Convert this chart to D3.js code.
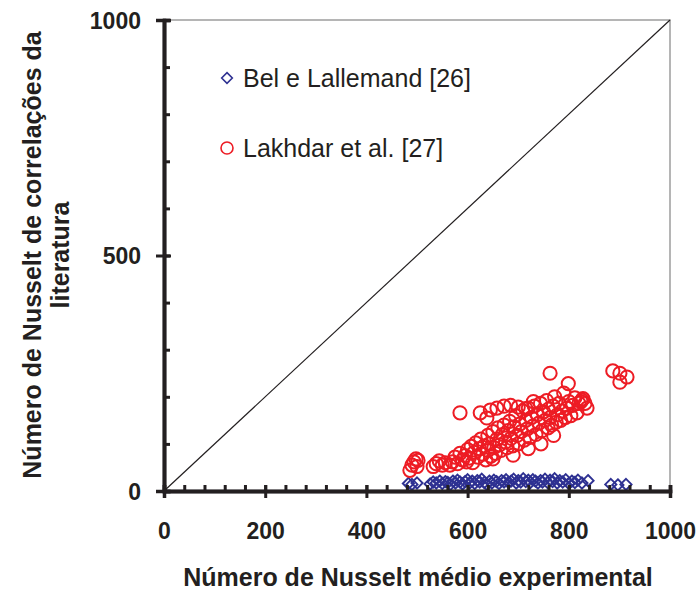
<!DOCTYPE html>
<meta http-equiv="content-type" content="text/html; charset=UTF8">
<html>
<head>
	<title>Nusselt</title>
	<script type="text/javascript" src="https://cdn.jsdelivr.net/npm/d3@7"></script>
	<style type="text/css">
		body, html { margin: 0; padding: 0; background: #fff; }
		text { font-family: "Liberation Sans", Arial, sans-serif; fill: #231f20; }
		.tick text { font-size: 23px; font-weight: bold; }
		.axis path, .axis line { stroke: #231f20; }
	</style>
</head>
<body>
<svg id="Chart" width="699" height="590"></svg>

<script type="text/javascript">

	// Bel e Lallemand [26]  (x = experimental, y = correlation)
	var belX = [483, 490, 500, 526, 532, 538, 545, 550, 556, 561, 566, 571, 576, 580, 585, 590, 595, 600, 604, 609, 614, 619, 624, 628, 633, 638, 643, 648, 652, 657, 662, 667, 672, 676, 681, 686, 691, 696, 700, 705, 710, 715, 720, 724, 729, 734, 739, 744, 748, 753, 758, 763, 768, 772, 777, 782, 788, 794, 800, 806, 812, 818, 826, 838, 883, 897, 913];
	var belY = [16, 14, 17, 15, 19, 17, 21, 16, 20, 18, 14, 21, 17, 23, 19, 15, 20, 24, 17, 21, 16, 22, 19, 25, 18, 14, 21, 17, 23, 20, 16, 22, 19, 24, 18, 21, 25, 17, 22, 19, 26, 20, 23, 18, 24, 21, 17, 22, 19, 25, 18, 23, 20, 26, 17, 22, 19, 24, 16, 21, 18, 23, 17, 22, 14, 13, 14];

	// Lakhdar et al. [27]
	var lakX = [486, 490, 494, 498, 502, 500,
		532, 538, 544, 550, 556,
		565, 570, 575, 580, 585, 590, 595, 598, 600,
		603, 607, 610, 613, 616, 620, 623, 626, 630, 633, 636, 640, 640,
		643, 646, 650, 652, 655, 658, 660, 663, 666, 669, 672, 675, 678, 680,
		683, 686, 689, 692, 695, 698, 700, 703, 706, 709, 712, 715, 718, 720,
		723, 726, 729, 732, 735, 738, 741, 744, 747, 750, 753, 756, 759, 760,
		763, 766, 769, 772, 775, 778, 781, 784, 787, 790, 793, 796, 799, 800,
		804, 808, 812, 816, 820, 824, 828, 832, 836, 826,
		650, 690, 720, 745, 770,
		585, 763, 887, 901, 915, 901,
		625, 638, 645, 658, 672, 685, 700, 715, 730];
	var lakY = [44, 55, 62, 68, 65, 52,
		52, 58, 64, 55, 60,
		55, 62, 72, 58, 80, 66, 75, 62, 88,
		70, 95, 60, 82, 102, 72, 90, 110, 78, 96, 66, 86, 118,
		100, 74, 126, 92, 80, 110, 134, 98, 86, 120, 140, 104, 92, 128,
		148, 112, 96, 136, 160, 118, 100, 142, 126, 170, 108, 150, 132, 176,
		114, 156, 138, 180, 120, 162, 144, 186, 128, 168, 150, 192, 134, 174,
		156, 140, 180, 200, 146, 162, 186, 150, 170, 208, 156, 176, 228, 190,
		160, 182, 198, 166, 186, 190, 196, 186, 176, 193,
		68, 76, 90, 100, 118,
		166, 250, 255, 250, 242, 231,
		166, 155, 172, 176, 180, 182, 178, 175, 190];

	var xMajor = [0, 200, 400, 600, 800, 1000],
		xMinor = d3.range(0, 1001, 40),
		yMajor = [0, 500, 1000],
		yMinor = d3.range(0, 1001, 100);

	var legendNames = ["Bel e Lallemand [26]", "Lakhdar et al. [27]"];

	var BLUE = "#2e3192",
		RED = "#ed1c24";

	var svg = d3.select("#Chart");

	var x = d3.scaleLinear().domain([0, 1000]).range([164, 670]),
		y = d3.scaleLinear().domain([0, 1000]).range([491, 20]);

	// frame (top and right)
	svg.append("path")
		.attr("d", "M" + x(0) + "," + y(1000) + "H" + x(1000) + "V" + y(0))
		.attr("fill", "none")
		.attr("stroke", "#9d9d9d")
		.attr("stroke-width", 1.5);

	// 1:1 line
	svg.append("line")
		.attr("x1", x(0)).attr("y1", y(0))
		.attr("x2", x(1000)).attr("y2", y(1000))
		.attr("stroke", "#231f20")
		.attr("stroke-width", 1.2);

	// markers
	var diamond = d3.symbol().type(d3.symbolDiamond2).size(80);

	svg.append("g").selectAll("path")
		.data(belX)
		.enter().append("path")
		.attr("d", diamond)
		.attr("transform", function(d, i) { return "translate(" + x(d) + "," + y(belY[i]) + ")"; })
		.attr("fill", "none")
		.attr("stroke", BLUE)
		.attr("stroke-width", 1.9);

	svg.append("g").selectAll("circle")
		.data(lakX)
		.enter().append("circle")
		.attr("cx", function(d) { return x(d); })
		.attr("cy", function(d, i) { return y(lakY[i]); })
		.attr("r", 6.6)
		.attr("fill", "none")
		.attr("stroke", RED)
		.attr("stroke-width", 2);

	// x axis: minor ticks up, major ticks across
	var gx = svg.append("g").attr("class", "axis").attr("transform", "translate(0," + y(0) + ")");
	gx.append("g").call(d3.axisTop(x).tickValues(xMinor).tickSize(6).tickFormat(""));
	gx.append("g").call(d3.axisTop(x).tickValues(xMajor).tickSize(6).tickFormat(""));
	gx.append("g").call(d3.axisBottom(x).tickValues(xMajor).tickSize(7).tickPadding(25).tickFormat(d3.format("d")));
	gx.selectAll("path").attr("stroke-width", 3.5);
	gx.selectAll("line").attr("stroke-width", 3);

	// y axis: minor ticks right, major ticks across
	var gy = svg.append("g").attr("class", "axis").attr("transform", "translate(" + x(0) + ",0)");
	gy.append("g").call(d3.axisRight(y).tickValues(yMinor).tickSize(6).tickFormat(""));
	gy.append("g").call(d3.axisRight(y).tickValues(yMajor).tickSize(7).tickFormat(""));
	gy.append("g").call(d3.axisLeft(y).tickValues(yMajor).tickSize(8).tickPadding(15).tickFormat(d3.format("d")));
	gy.selectAll("path").attr("stroke-width", 3.5);
	gy.selectAll("line").attr("stroke-width", 3);
	gy.selectAll(".tick text").attr("dy", "0.36em");

	// legend
	var legend = svg.append("g").attr("transform", "translate(227,78)");
	legend.append("path")
		.attr("d", d3.symbol().type(d3.symbolDiamond2).size(72))
		.attr("fill", "none").attr("stroke", BLUE).attr("stroke-width", 1.6);
	legend.append("circle")
		.attr("cy", 70).attr("r", 6)
		.attr("fill", "none").attr("stroke", RED).attr("stroke-width", 1.6);
	legend.selectAll("text")
		.data(legendNames)
		.enter().append("text")
		.attr("x", 16)
		.attr("y", function(d, i) { return 9 + i * 70; })
		.style("font-size", "25px")
		.text(function(d) { return d; });

	// axis titles
	svg.append("text")
		.attr("x", 418).attr("y", 586)
		.attr("text-anchor", "middle")
		.style("font-size", "25px").style("font-weight", "bold")
		.text("Número de Nusselt médio experimental");

	var yt = svg.append("text")
		.attr("transform", "translate(0,255) rotate(-90)")
		.attr("text-anchor", "middle")
		.style("font-size", "25px").style("font-weight", "bold");
	yt.append("tspan").attr("x", 0).attr("y", 41).text("Número de Nusselt de correlações da");
	yt.append("tspan").attr("x", 0).attr("y", 69).text("literatura");

</script>
</body>
</html>
